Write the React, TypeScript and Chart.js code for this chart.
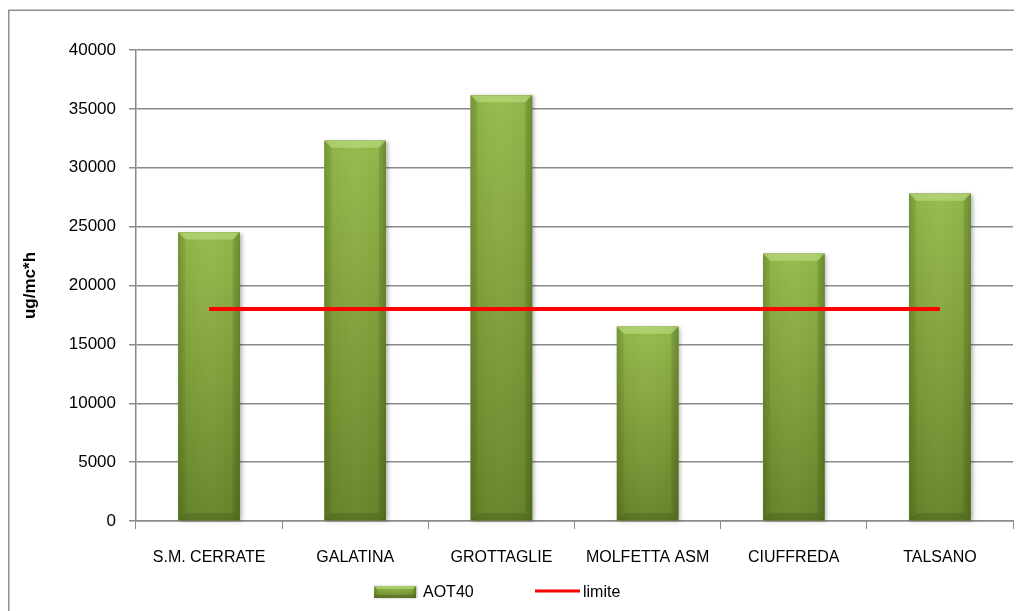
import React, { useEffect, useRef } from "react";
import { Chart, registerables } from "chart.js";

Chart.register(...registerables);

const categories = ["S.M. CERRATE", "GALATINA", "GROTTAGLIE", "MOLFETTA ASM", "CIUFFREDA", "TALSANO"];
const aot40 = [24500, 32300, 36150, 16500, 22700, 27800];
const limite = [18000, 18000, 18000, 18000, 18000, 18000];
const yTicks = [0, 5000, 10000, 15000, 20000, 25000, 30000, 35000, 40000];
const seriesNames = ["AOT40", "limite"];
const yTitle = "ug/mc*h";

const FONT = "'Liberation Sans', Arial, sans-serif";
const GRID = "#8a8a8a";

function fillBar(ctx: CanvasRenderingContext2D, l: number, t: number, r: number, b: number, bevel: number) {
  const w = r - l;
  const vg = ctx.createLinearGradient(0, t, 0, b);
  vg.addColorStop(0, "#95ba4b");
  vg.addColorStop(0.5, "#809f3a");
  vg.addColorStop(1, "#66842a");
  ctx.fillStyle = vg;
  ctx.fillRect(l, t, w, b - t);
  const hg = ctx.createLinearGradient(l, 0, r, 0);
  hg.addColorStop(0, "rgba(40,60,10,0.22)");
  hg.addColorStop(0.1, "rgba(40,60,10,0.04)");
  hg.addColorStop(0.5, "rgba(255,255,255,0.03)");
  hg.addColorStop(0.9, "rgba(40,60,10,0.04)");
  hg.addColorStop(1, "rgba(40,60,10,0.25)");
  ctx.fillStyle = hg;
  ctx.fillRect(l, t, w, b - t);
  const bv = Math.min(bevel, (b - t) / 2);
  ctx.beginPath();
  ctx.moveTo(l, t);
  ctx.lineTo(r, t);
  ctx.lineTo(r - bv, t + bv);
  ctx.lineTo(l + bv, t + bv);
  ctx.closePath();
  ctx.fillStyle = "rgba(205,235,150,0.45)";
  ctx.fill();
  ctx.beginPath();
  ctx.moveTo(l, t);
  ctx.lineTo(l + bv, t + bv);
  ctx.lineTo(l + bv, b - bv);
  ctx.lineTo(l, b);
  ctx.closePath();
  ctx.fillStyle = "rgba(60,85,20,0.12)";
  ctx.fill();
  ctx.beginPath();
  ctx.moveTo(r, t);
  ctx.lineTo(r - bv, t + bv);
  ctx.lineTo(r - bv, b - bv);
  ctx.lineTo(r, b);
  ctx.closePath();
  ctx.fillStyle = "rgba(40,60,10,0.16)";
  ctx.fill();
  ctx.beginPath();
  ctx.moveTo(l, b);
  ctx.lineTo(l + bv, b - bv);
  ctx.lineTo(r - bv, b - bv);
  ctx.lineTo(r, b);
  ctx.closePath();
  ctx.fillStyle = "rgba(30,45,5,0.18)";
  ctx.fill();
}

const bevelBars = {
  id: "bevelBars",
  afterDatasetDraw(chart: any, args: any) {
    if (args.index !== 0) return;
    const meta = chart.getDatasetMeta(0);
    const ctx: CanvasRenderingContext2D = chart.ctx;
    ctx.save();
    meta.data.forEach((el: any) => {
      const { x, y, base, width } = el.getProps(["x", "y", "base", "width"], true);
      const l = x - width / 2;
      const r = x + width / 2;
      ctx.save();
      ctx.shadowColor = "rgba(0,0,0,0.3)";
      ctx.shadowBlur = 4;
      ctx.shadowOffsetX = 2;
      ctx.shadowOffsetY = 1;
      ctx.fillStyle = "#6f8f30";
      ctx.fillRect(l, y, width, base - y);
      ctx.restore();
      fillBar(ctx, l, y, r, base, 7);
    });
    ctx.restore();
  },
};

const frameAndLegend = {
  id: "frameAndLegend",
  beforeDraw(chart: any) {
    const ctx: CanvasRenderingContext2D = chart.ctx;
    ctx.save();
    ctx.fillStyle = "#ffffff";
    ctx.fillRect(0, 0, chart.width, chart.height);
    ctx.strokeStyle = "#909090";
    ctx.lineWidth = 1.5;
    ctx.beginPath();
    ctx.moveTo(0.75, chart.height);
    ctx.lineTo(0.75, 2.25);
    ctx.lineTo(chart.width, 2.25);
    ctx.stroke();
    ctx.restore();
  },
  afterDraw(chart: any) {
    const ctx: CanvasRenderingContext2D = chart.ctx;
    ctx.save();
    const cy = 584;
    ctx.shadowColor = "rgba(0,0,0,0.3)";
    ctx.shadowBlur = 2;
    ctx.shadowOffsetX = 1;
    ctx.fillStyle = "#6f8f30";
    ctx.fillRect(366, cy - 6, 42, 12);
    ctx.shadowColor = "transparent";
    fillBar(ctx, 366, cy - 6, 408, cy + 6, 3);
    ctx.fillStyle = "#000000";
    ctx.font = `16px ${FONT}`;
    ctx.textBaseline = "middle";
    ctx.textAlign = "left";
    ctx.fillText(seriesNames[0], 415, cy + 1);
    ctx.strokeStyle = "#ff0000";
    ctx.lineWidth = 3;
    ctx.beginPath();
    ctx.moveTo(527, cy - 1);
    ctx.lineTo(572, cy - 1);
    ctx.stroke();
    ctx.fillText(seriesNames[1], 575, cy + 1);
    ctx.restore();
  },
};

export default function App() {
  const ref = useRef<HTMLCanvasElement | null>(null);
  useEffect(() => {
    if (!ref.current) return;
    const chart = new Chart(ref.current, {
      type: "bar",
      data: {
        labels: categories,
        datasets: [
          {
            type: "bar",
            label: seriesNames[0],
            data: aot40,
            backgroundColor: "#7d9f37",
            barPercentage: 0.42,
            categoryPercentage: 1,
            order: 1,
          },
          {
            type: "line",
            label: seriesNames[1],
            data: limite,
            borderColor: "#ff0000",
            borderWidth: 4,
            pointRadius: 0,
            fill: false,
            order: 0,
          } as any,
        ],
      },
      options: {
        animation: false,
        responsive: false,
        devicePixelRatio: 1,
        layout: { padding: { left: 0, right: 9, top: 42, bottom: 25 } },
        plugins: {
          legend: { display: false },
          tooltip: { enabled: false },
        },
        scales: {
          x: {
            grid: {
              display: true,
              drawOnChartArea: false,
              drawTicks: true,
              tickLength: 8,
              color: GRID,
              offset: true,
            },
            border: { display: true, color: GRID, width: 1.5 },
            ticks: {
              color: "#000000",
              font: { family: FONT, size: 16 },
              padding: 19,
              maxRotation: 0,
              autoSkip: false,
            },
            afterFit(scale: any) {
              scale.height = 65;
            },
          },
          y: {
            min: 0,
            max: 40000,
            afterBuildTicks(scale: any) {
              scale.ticks = yTicks.map((v) => ({ value: v }));
            },
            grid: {
              color: GRID,
              lineWidth: 1.5,
              tickLength: 7,
              drawTicks: true,
            },
            border: { display: true, color: GRID, width: 1.5 },
            ticks: {
              color: "#000000",
              font: { family: FONT, size: 17 },
              padding: 13,
              callback: (v: any) => String(v),
            },
            title: {
              display: true,
              text: yTitle,
              color: "#000000",
              font: { family: FONT, size: 17, weight: "bold" },
              padding: { top: 12, bottom: 0 },
            },
            afterFit(scale: any) {
              scale.width = 128;
            },
          },
        },
      },
      plugins: [bevelBars, frameAndLegend],
    });
    return () => chart.destroy();
  }, []);
  return (
    <canvas
      ref={ref}
      width={1014}
      height={603}
      style={{ display: "block", width: 1014, height: 603 }}
    />
  );
}
